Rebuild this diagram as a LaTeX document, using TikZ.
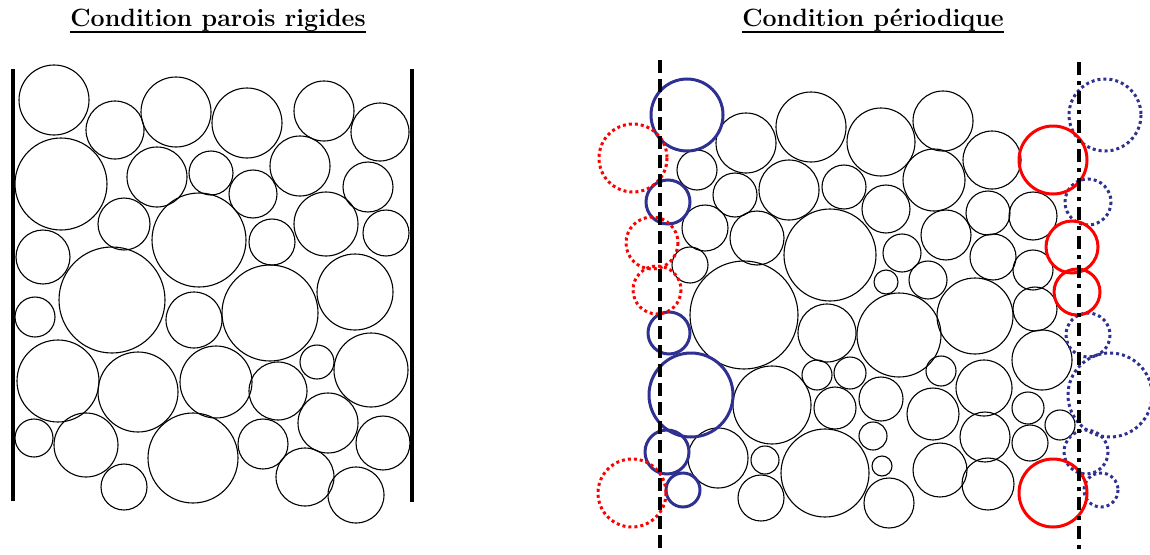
\documentclass[tikz,border=0pt]{standalone}
\usepackage{tikz}
\usetikzlibrary{positioning}
\definecolor{imageblue}{RGB}{46,49,146}
\begin{document}
\begin{tikzpicture}[x=1pt,y=-1pt,
  grain/.style={draw,line width=1.1pt},
  imgblue/.style={draw=imageblue,line width=3pt},
  imgred/.style={draw=red,line width=3pt},
  ghostblue/.style={draw=imageblue,line width=3pt,dash pattern=on 3pt off 3pt},
  ghostred/.style={draw=red,line width=3pt,dash pattern=on 3pt off 3pt},
  wall/.style={line width=4pt},
  bound/.style={line width=3.5pt,dash pattern=on 13pt off 6pt},
  bounddot/.style={line width=3.5pt,dash pattern=on 13pt off 6pt on 4pt off 6pt},
  title/.style={font=\bfseries\fontsize{25}{30}\selectfont,inner sep=0pt,anchor=base}]
\useasboundingbox (0,0) rectangle (1150,554);
% titles
\node[title] (rigid) at (218,27) {Condition parois rigides};
\node[title] (period) at (873,27) {Condition p\'eriodique};
\draw[line width=1.2pt] ([yshift=-5pt]rigid.base west) -- ([yshift=-5pt]rigid.base east);
\draw[line width=1.2pt] ([yshift=-5pt]period.base west) -- ([yshift=-5pt]period.base east);
% rigid walls
\coordinate (wallLtop) at (13,69);
\coordinate (wallLbot) at (13,501);
\coordinate (wallRtop) at (412,69);
\coordinate (wallRbot) at (412,502);
\draw[wall] (wallLtop) -- (wallLbot);
\draw[wall] (wallRtop) -- (wallRbot);
% grains, rigid walls
\foreach \x/\y/\r in {54/100/35, 115/130/29, 176/112/35, 247/123/35, 324/111/30, 380/132/29,
  61/184/46, 157/177/30, 211/173/22, 300/166/30, 368/187/25,
  124/224/26, 199/240/47, 253/194/24, 326/224/32, 386/233/23, 43/257/27, 272/242/23,
  112/300/53, 35/317/20, 194/320/28, 270/313/48, 355/292/38,
  58/381/41, 138/392/40, 216/382/36, 278/391/29, 317/362/17, 371/370/37,
  34/438/19, 86/445/32, 193/458/45, 263/444/25, 328/423/30, 383/443/27,
  124/487/23, 305/477/29, 356/495/28}
  \draw[grain] (\x,\y) circle (\r);
% grains, periodic
\foreach \x/\y/\r in {697/170/20, 746/143/30, 811/127/35, 881/142/34, 943/121/30, 992/160/29,
  735/195/22, 789/190/30, 844/187/22, 934/180/31, 886/209/24, 988/213/22, 1033/216/24,
  705/228/23, 690/265/18, 757/238/27, 830/255/46, 902/253/19, 946/235/25, 886/282/12,
  928/280/19, 993/257/23, 1033/270/20,
  744/315/54, 827/333/29, 899/335/42, 975/316/38, 1035/309/22, 1042/360/30,
  817/375/15, 850/373/16, 772/405/39, 835/408/21, 718/458/30, 765/460/14, 761/498/23, 825/473/44,
  881/399/22, 941/371/15, 984/388/28, 933/414/26, 873/436/14, 882/466/10, 985/437/25,
  1028/408/16, 1060/425/15, 1030/443/18, 940/470/27, 889/503/25, 988/484/26}
  \draw[grain] (\x,\y) circle (\r);
% crossing grains and their images
\foreach \x/\y/\r in {687/115/36, 668/202/22, 669/333/21, 691/395/42, 667/452/22, 683/490/17}
  \draw[imgblue] (\x,\y) circle (\r);
\foreach \x/\y/\r in {1105/115/36, 1088/202/23, 1088/335/22, 1110/395/42, 1086/452/22, 1101/490/17}
  \draw[ghostblue] (\x,\y) circle (\r);
\foreach \x/\y/\r in {1053/160/34, 1072/247/26, 1077/292/23, 1053/493/34}
  \draw[imgred] (\x,\y) circle (\r);
\foreach \x/\y/\r in {633/158/34, 652/243/26, 657/290/24, 632/493/34}
  \draw[ghostred] (\x,\y) circle (\r);
% periodic boundaries
\coordinate (bndLtop) at (660,60);
\coordinate (bndLbot) at (660,552);
\coordinate (bndRtop) at (1079,62);
\coordinate (bndRbot) at (1079,552);
\draw[bound] (bndLtop) -- (bndLbot);
\draw[bounddot] (bndRtop) -- (bndRbot);
\end{tikzpicture}
\end{document}
